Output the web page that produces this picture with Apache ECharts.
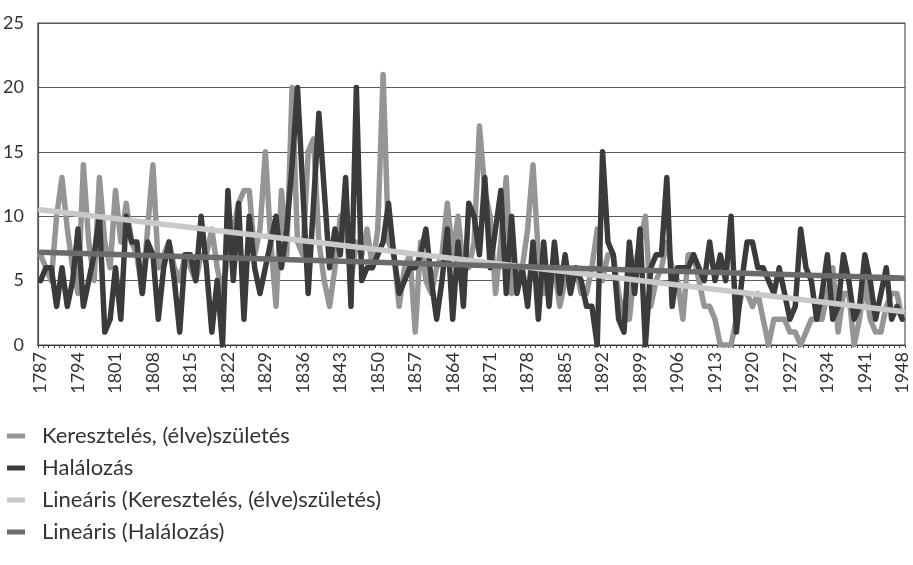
<!DOCTYPE html>
<html lang="hu">
<head>
    <meta charset="UTF-8">
    <title>Keresztelés és halálozás</title>
    <style>
        * {
            margin: 0;
            padding: 0;
            box-sizing: border-box;
        }
        body {
            background: #fff;
        }
        .chart {
            width: 913px;
            height: 565px;
        }
    </style>
</head>
<body>
<div class="chart" id="chart"></div>

<script src="https://cdn.jsdelivr.net/npm/echarts@6.0.0/dist/echarts.min.js"></script>
<script>
    // évek 1787-1948
    const firstYear = 1787
    const lastYear = 1948
    const years = []
    for (let y = firstYear; y <= lastYear; y++) years.push(String(y))

    // Keresztelés, (élve)születés
    const keresztelés = [
        7, 6, 5, 10, 13, 9, 6, 4, 14, 8,
        5, 13, 8, 6, 12, 8, 11, 8, 7, 4,
        9, 14, 6, 7, 8, 6, 5, 7, 6, 5,
        7, 7, 9, 6, 4, 7, 9, 11, 12, 12,
        7, 9, 15, 8, 3, 12, 7, 20, 8, 7,
        15, 16, 8, 5, 3, 6, 10, 9, 5, 8,
        7, 9, 6, 9, 21, 8, 7, 3, 6, 7,
        1, 8, 5, 4, 6, 7, 11, 7, 10, 6,
        6, 8, 17, 12, 10, 4, 8, 13, 4, 5,
        6, 9, 14, 7, 4, 5, 6, 3, 5, 5,
        6, 4, 4, 6, 9, 5, 7, 7, 4, 2,
        2, 6, 8, 10, 3, 5, 6, 8, 6, 5,
        2, 7, 7, 5, 3, 3, 2, 0, 0, 0,
        2, 4, 4, 3, 4, 2, 0, 2, 2, 2,
        1, 1, 0, 1, 2, 2, 2, 4, 6, 1,
        4, 4, 0, 2, 5, 2, 1, 1, 3, 4,
        4, 2
    ]

    // Halálozás
    const halálozás = [
        5, 6, 6, 3, 6, 3, 5, 9, 3, 5,
        7, 10, 1, 2, 6, 2, 10, 8, 8, 4,
        8, 7, 2, 6, 8, 5, 1, 7, 7, 5,
        10, 6, 1, 5, 0, 12, 5, 11, 2, 10,
        6, 4, 6, 8, 10, 6, 9, 14, 20, 12,
        4, 11, 18, 12, 6, 9, 7, 13, 3, 20,
        5, 6, 6, 7, 8, 11, 7, 4, 5, 6,
        6, 7, 9, 5, 2, 5, 9, 2, 8, 3,
        11, 10, 7, 13, 6, 9, 12, 4, 10, 4,
        6, 3, 8, 2, 8, 3, 8, 4, 7, 4,
        6, 5, 3, 3, 0, 15, 8, 7, 2, 1,
        8, 4, 9, 0, 6, 7, 7, 13, 3, 6,
        6, 6, 7, 6, 5, 8, 5, 7, 5, 10,
        1, 5, 8, 8, 6, 6, 5, 4, 6, 4,
        2, 3, 9, 6, 5, 2, 4, 7, 2, 3,
        7, 5, 2, 3, 7, 5, 2, 4, 6, 2,
        3, 2
    ]

    // lineáris trendvonalak (kezdő- és végérték)
    const trendKeresztelés = [10.5, 2.6]
    const trendHalálozás = [7.2, 5.2]

    const yTicks = { min: 0, max: 25, interval: 5 }

    const names = [
        'Keresztelés, (élve)születés',
        'Halálozás',
        'Lineáris (Keresztelés, (élve)születés)',
        'Lineáris (Halálozás)'
    ]
    const colors = ['#959595', '#3b3b3b', '#c9c9c9', '#6b6b6b']

    const chartEle = document.querySelector('.chart')
    const myChart = echarts.init(chartEle, null, { renderer: 'canvas' })

    const lineBase = (name, color, data) => ({
        name: name,
        type: 'line',
        data: data,
        showSymbol: false,
        symbol: 'none',
        smooth: false,
        silent: true,
        lineStyle: { color: color, width: 5.5, cap: 'round', join: 'round' },
        itemStyle: { color: color },
        emphasis: { disabled: true }
    })

    const option = {
        animation: false,
        textStyle: { fontFamily: 'Lato, "Noto Sans", sans-serif' },
        color: colors,
        grid: {
            left: 35.5,
            right: 8,
            top: 23,
            bottom: 220,
            show: true,
            borderColor: '#555',
            borderWidth: 1.2,
            backgroundColor: 'transparent'
        },
        legend: {
            orient: 'vertical',
            left: 2,
            top: 420,
            itemWidth: 18,
            itemHeight: 5,
            itemGap: 10,
            icon: 'rect',
            selectedMode: false,
            textStyle: { fontSize: 22, lineHeight: 22, color: '#333', padding: [0, 0, 0, 12] },
            data: names
        },
        xAxis: {
            type: 'category',
            data: years,
            boundaryGap: true,
            axisLine: { lineStyle: { color: '#333', width: 1.2 } },
            axisTick: { show: true, interval: 0, length: 3, lineStyle: { color: '#444' } },
            axisLabel: {
                interval: 6,
                rotate: 90,
                fontSize: 18,
                color: '#333',
                margin: 7
            },
            splitLine: { show: false }
        },
        yAxis: {
            type: 'value',
            min: yTicks.min,
            max: yTicks.max,
            interval: yTicks.interval,
            axisLine: { show: true, lineStyle: { color: '#555', width: 1.2 } },
            axisTick: { show: false },
            axisLabel: { fontSize: 18, color: '#333', margin: 14 },
            splitLine: { lineStyle: { color: '#5a5a5a', width: 1.2 } }
        },
        series: [
            lineBase(names[0], colors[0], keresztelés),
            lineBase(names[1], colors[1], halálozás),
            lineBase(names[2], colors[2], [[years[0], trendKeresztelés[0]], [years[years.length - 1], trendKeresztelés[1]]]),
            lineBase(names[3], colors[3], [[years[0], trendHalálozás[0]], [years[years.length - 1], trendHalálozás[1]]])
        ]
    }

    myChart.setOption(option)
</script>
</body>
</html>
